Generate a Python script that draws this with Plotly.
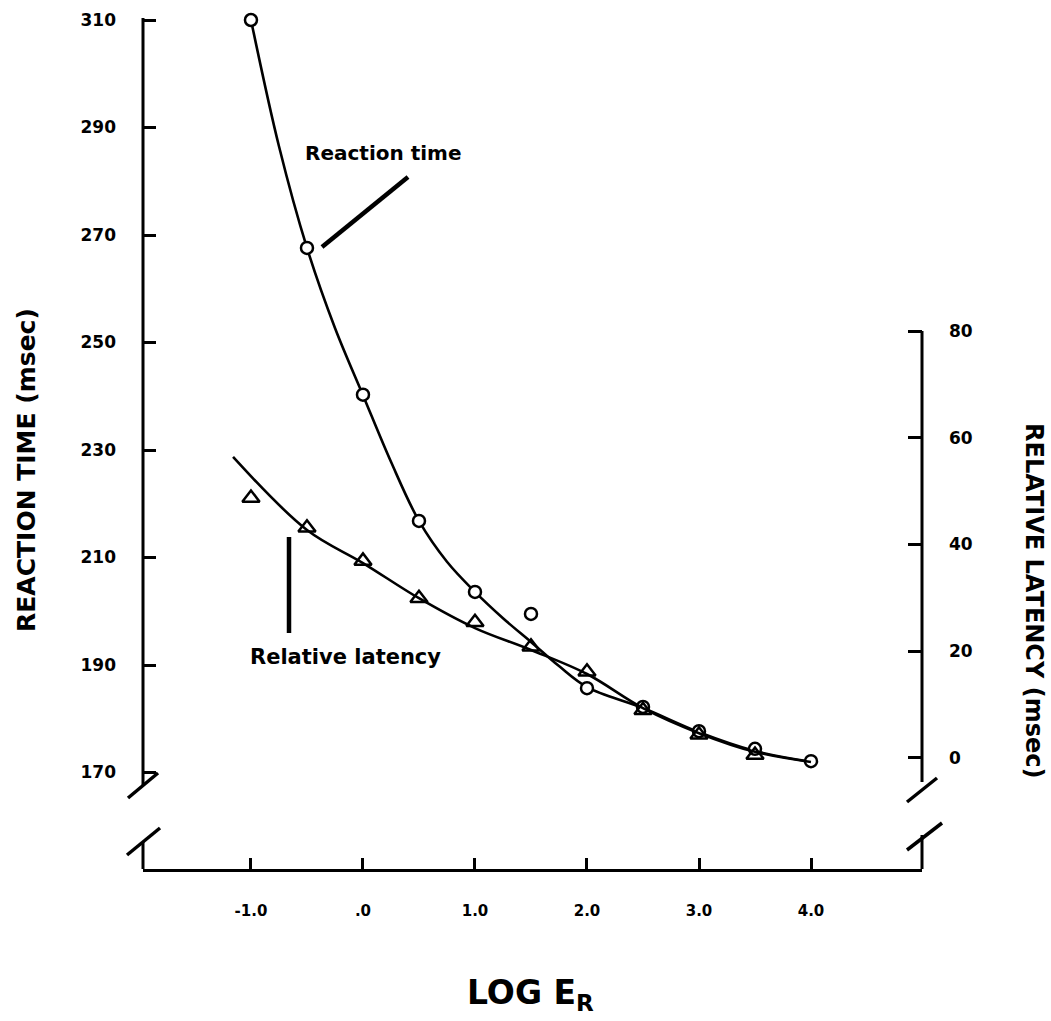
import plotly.graph_objects as go

# ---------------- data ----------------
log_er = [-1.0, -0.5, 0.0, 0.5, 1.0, 1.5, 2.0, 2.5, 3.0, 3.5, 4.0]
reaction_time = [310.0, 267.6, 240.3, 216.8, 203.6, 199.5, 185.7, 182.2, 177.7, 174.4, 172.1]

log_er_tri = [-1.0, -0.5, 0.0, 0.5, 1.0, 1.5, 2.0, 2.5, 3.0, 3.5]
relative_latency = [48.7, 43.1, 36.9, 29.9, 25.4, 20.8, 16.1, 8.9, 4.3, 0.5]

# fitted curves
rt_fit_x = [-1.0, -0.75, -0.5, -0.25, 0.0, 0.25, 0.5, 0.75, 1.0, 1.25, 1.5, 1.75, 2.0, 2.5, 3.0, 3.5, 4.0]
rt_fit_y = [310.0, 286.5, 267.6, 252.7, 240.2, 227.8, 216.8, 209.2, 203.6, 198.7, 194.3, 189.8, 185.9,
            182.0, 177.5, 174.0, 172.0]
rl_fit_x = [-1.16, -0.5, 0.0, 0.5, 1.0, 1.5, 2.0, 2.5, 3.0, 3.5, 4.0]
rl_fit_y = [56.4, 42.7, 36.5, 29.9, 24.3, 20.2, 15.7, 9.3, 4.6, 1.1, -0.8]

x_tickvals = [-1, 0, 1, 2, 3, 4]
x_ticktext = ["-1.0", ".0", "1.0", "2.0", "3.0", "4.0"]
y_tickvals = [170, 190, 210, 230, 250, 270, 290, 310]
y2_tickvals = [0, 20, 40, 60, 80]

# ---------------- layout geometry ----------------
W, H = 1051, 1021
PL, PR, PT, PB = 143, 922, 10, 869
X_RANGE = [-1.964, 4.991]
Y_RANGE = [152.05, 311.86]
Y2_RANGE = [-20.87, 140.2]

FONT = "DejaVu Sans"


def pp(px, py):
    """pixel -> paper coords (for decorations only)"""
    return (px - PL) / (PR - PL), (PB - py) / (PB - PT)


fig = go.Figure()

# fitted curves
fig.add_trace(go.Scatter(x=rt_fit_x, y=rt_fit_y, mode="lines",
                         line=dict(color="black", width=2.6, shape="spline", smoothing=1.0),
                         hoverinfo="skip", showlegend=False, cliponaxis=False))
fig.add_trace(go.Scatter(x=rl_fit_x, y=rl_fit_y, mode="lines", yaxis="y2",
                         line=dict(color="black", width=2.6, shape="spline", smoothing=1.0),
                         hoverinfo="skip", showlegend=False, cliponaxis=False))
# data points
fig.add_trace(go.Scatter(x=log_er, y=reaction_time, mode="markers", name="Reaction time",
                         marker=dict(symbol="circle", size=12, color="white",
                                     line=dict(color="black", width=2.5)),
                         showlegend=False, cliponaxis=False))
fig.add_trace(go.Scatter(x=log_er_tri, y=relative_latency, mode="markers", yaxis="y2",
                         name="Relative latency",
                         marker=dict(symbol="triangle-up", size=15, color="rgba(255,255,255,0)",
                                     line=dict(color="black", width=2.5)),
                         showlegend=False, cliponaxis=False))

shapes = []


def seg(p0, p1, w=3):
    x0, y0 = pp(*p0)
    x1, y1 = pp(*p1)
    shapes.append(dict(type="line", xref="paper", yref="paper", x0=x0, y0=y0, x1=x1, y1=y1,
                       line=dict(color="black", width=w)))


# broken left axis
seg((143, 18), (143, 785), 3)
seg((143, 842), (143, PB), 3)
seg((128, 798), (158, 773), 3.5)
seg((127, 855), (160, 828), 3.5)
# broken right axis
seg((922, 331), (922, 782), 3)
seg((922, 835), (922, PB), 3)
seg((907, 802), (937, 778), 3.5)
seg((907, 850), (942, 823), 3.5)
# leader lines
seg((322, 247), (408, 177), 4.5)
seg((289, 537), (289, 633), 4.5)

annotations = []


def txt(text, px, py, size, angle=0, xanchor="center", yanchor="middle"):
    x, y = pp(px, py)
    annotations.append(dict(text=text, x=x, y=y, xref="paper", yref="paper", showarrow=False,
                            textangle=angle, xanchor=xanchor, yanchor=yanchor,
                            font=dict(family=FONT, size=size, color="black", weight="bold")))


txt("Reaction time", 383, 153, 20)
txt("Relative latency", 345, 657, 21)
txt("REACTION TIME (msec)", 26, 470, 25, angle=-90)
txt("RELATIVE LATENCY (msec)", 1034, 600, 24, angle=90)
txt("LOG E<sub>R</sub>", 530, 994, 33)

tickfont = dict(family=FONT, size=17, color="black", weight="bold")

fig.update_layout(
    width=W, height=H,
    margin=dict(l=PL, r=W - PR, t=PT, b=H - PB, pad=0),
    paper_bgcolor="white", plot_bgcolor="white",
    showlegend=False,
    shapes=shapes, annotations=annotations,
    xaxis=dict(range=X_RANGE, showgrid=False, zeroline=False,
               showline=True, linecolor="black", linewidth=3, mirror=False,
               ticks="inside", ticklen=11, tickwidth=2.5, tickcolor="black",
               tickvals=x_tickvals, ticktext=x_ticktext,
               tickfont=dict(family=FONT, size=15, color="black", weight="bold"),
               ticklabelstandoff=26),
    yaxis=dict(range=Y_RANGE, showgrid=False, zeroline=False, showline=False,
               ticks="inside", ticklen=13, tickwidth=3, tickcolor="black",
               tickvals=y_tickvals, ticktext=[str(v) for v in y_tickvals],
               tickfont=tickfont, ticklabelstandoff=26),
    yaxis2=dict(range=Y2_RANGE, overlaying="y", side="right", showgrid=False,
                zeroline=False, showline=False,
                ticks="inside", ticklen=14, tickwidth=3, tickcolor="black",
                tickvals=y2_tickvals, ticktext=[str(v) for v in y2_tickvals],
                tickfont=tickfont, ticklabelstandoff=26),
)

fig.write_html("out.html", config={"displayModeBar": False},
               post_script="document.body.style.margin='0px';document.body.style.overflow='hidden';")
